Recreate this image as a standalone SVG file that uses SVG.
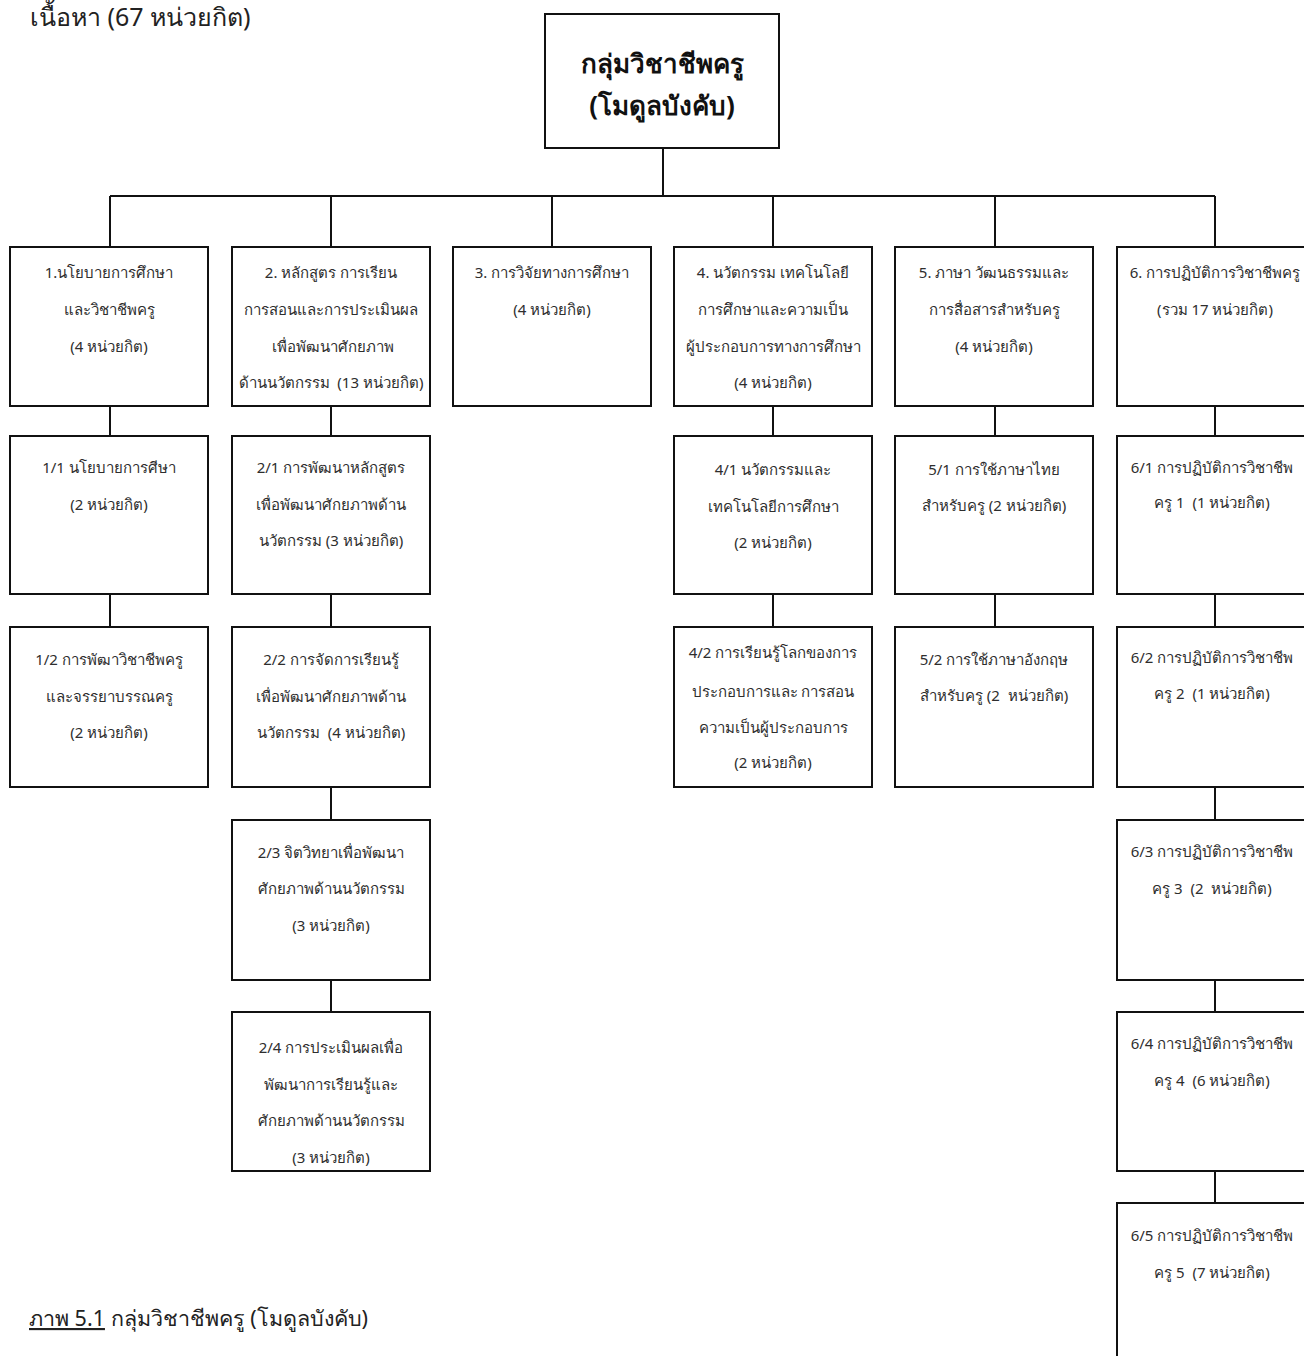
<svg xmlns="http://www.w3.org/2000/svg" width="1304" height="1356" viewBox="0 0 1304 1356">
<style>
.box{fill:#fff;stroke:#111;stroke-width:2}
.con{fill:none;stroke:#111;stroke-width:2}
.t{font-family:'Noto Sans','DejaVu Sans',sans-serif;font-size:15px;fill:#2e2e2e;text-anchor:middle;white-space:pre}
.root{font-family:'Noto Sans','DejaVu Sans',sans-serif;font-size:26px;font-weight:bold;fill:#111;text-anchor:middle}
.plain{font-family:'Noto Sans','DejaVu Sans',sans-serif;fill:#222}
</style>
<rect width="1304" height="1356" fill="#fff"/>
<text class="plain" x="30" y="26" font-size="25">เนื้อหา (67 หน่วยกิต)</text>
<g id="connectors">
<path class="con" d="M663 148V196M110 196H1215M110 196V247M331 196V247M552 196V247M773 196V247M995 196V247M1215 196V247"/>
<path class="con" d="M110 406V436M110 594V627"/>
<path class="con" d="M331 406V436M331 594V627M331 787V820M331 980V1012"/>
<path class="con" d="M773 406V436M773 594V627"/>
<path class="con" d="M995 406V436M995 594V627"/>
<path class="con" d="M1215 406V436M1215 594V627M1215 787V820M1215 980V1012M1215 1171V1203"/>
</g>
<g id="root"><rect class="box" x="545" y="14" width="234" height="134"/>
<text class="root" x="662" y="73">กลุ่มวิชาชีพครู</text><text class="root" x="662" y="115">(โมดูลบังคับ)</text></g>

<g id="n1"><rect class="box" x="10" y="247" width="198" height="159"/>
<text class="t" x="109" y="278">1.นโยบายการศึกษา</text><text class="t" x="109" y="315">และวิชาชีพครู</text><text class="t" x="109" y="352">(4 หน่วยกิต)</text></g>
<g id="n1_1"><rect class="box" x="10" y="436" width="198" height="158"/>
<text class="t" x="109" y="473">1/1 นโยบายการศีษา</text><text class="t" x="109" y="510">(2 หน่วยกิต)</text></g>
<g id="n1_2"><rect class="box" x="10" y="627" width="198" height="160"/>
<text class="t" x="109" y="665">1/2 การพัฒาวิชาชีพครู</text><text class="t" x="109" y="702">และจรรยาบรรณครู</text><text class="t" x="109" y="738">(2 หน่วยกิต)</text></g>

<g id="n2"><rect class="box" x="232" y="247" width="198" height="159"/>
<text class="t" x="331" y="278">2. หลักสูตร การเรียน</text><text class="t" x="331" y="315">การสอนและการประเมินผล</text><text class="t" x="333" y="352">เพื่อพัฒนาศักยภาพ</text><text class="t" x="331" y="388">ด้านนวัตกรรม  (13 หน่วยกิต)</text></g>
<g id="n2_1"><rect class="box" x="232" y="436" width="198" height="158"/>
<text class="t" x="331" y="473">2/1 การพัฒนาหลักสูตร</text><text class="t" x="331" y="510">เพื่อพัฒนาศักยภาพด้าน</text><text class="t" x="331" y="546">นวัตกรรม (3 หน่วยกิต)</text></g>
<g id="n2_2"><rect class="box" x="232" y="627" width="198" height="160"/>
<text class="t" x="331" y="665">2/2 การจัดการเรียนรู้</text><text class="t" x="331" y="702">เพื่อพัฒนาศักยภาพด้าน</text><text class="t" x="331" y="738">นวัตกรรม  (4 หน่วยกิต)</text></g>
<g id="n2_3"><rect class="box" x="232" y="820" width="198" height="160"/>
<text class="t" x="331" y="858">2/3 จิตวิทยาเพื่อพัฒนา</text><text class="t" x="331" y="894">ศักยภาพด้านนวัตกรรม</text><text class="t" x="331" y="931">(3 หน่วยกิต)</text></g>
<g id="n2_4"><rect class="box" x="232" y="1012" width="198" height="159"/>
<text class="t" x="331" y="1053">2/4 การประเมินผลเพื่อ</text><text class="t" x="331" y="1090">พัฒนาการเรียนรู้และ</text><text class="t" x="331" y="1126">ศักยภาพด้านนวัตกรรม</text><text class="t" x="331" y="1163">(3 หน่วยกิต)</text></g>

<g id="n3"><rect class="box" x="453" y="247" width="198" height="159"/>
<text class="t" x="552" y="278">3. การวิจัยทางการศึกษา</text><text class="t" x="552" y="315">(4 หน่วยกิต)</text></g>

<g id="n4"><rect class="box" x="674" y="247" width="198" height="159"/>
<text class="t" x="773" y="278">4. นวัตกรรม เทคโนโลยี</text><text class="t" x="773" y="315">การศึกษาและความเป็น</text><text class="t" x="773" y="352">ผู้ประกอบการทางการศึกษา</text><text class="t" x="773" y="388">(4 หน่วยกิต)</text></g>
<g id="n4_1"><rect class="box" x="674" y="436" width="198" height="158"/>
<text class="t" x="773" y="475">4/1 นวัตกรรมและ</text><text class="t" x="773" y="512">เทคโนโลยีการศึกษา</text><text class="t" x="773" y="548">(2 หน่วยกิต)</text></g>
<g id="n4_2"><rect class="box" x="674" y="627" width="198" height="160"/>
<text class="t" x="773" y="658">4/2 การเรียนรู้โลกของการ</text><text class="t" x="773" y="697">ประกอบการและ การสอน</text><text class="t" x="773" y="733">ความเป็นผู้ประกอบการ</text><text class="t" x="773" y="768">(2 หน่วยกิต)</text></g>

<g id="n5"><rect class="box" x="895" y="247" width="198" height="159"/>
<text class="t" x="994" y="278">5. ภาษา วัฒนธรรมและ</text><text class="t" x="994" y="315">การสื่อสารสำหรับครู</text><text class="t" x="994" y="352">(4 หน่วยกิต)</text></g>
<g id="n5_1"><rect class="box" x="895" y="436" width="198" height="158"/>
<text class="t" x="994" y="475">5/1 การใช้ภาษาไทย</text><text class="t" x="994" y="511">สำหรับครู (2 หน่วยกิต)</text></g>
<g id="n5_2"><rect class="box" x="895" y="627" width="198" height="160"/>
<text class="t" x="994" y="665">5/2 การใช้ภาษาอังกฤษ</text><text class="t" x="994" y="701">สำหรับครู (2  หน่วยกิต)</text></g>

<g id="n6"><rect class="box" x="1117" y="247" width="198" height="159"/>
<text class="t" x="1215" y="278">6. การปฏิบัติการวิชาชีพครู</text><text class="t" x="1215" y="315">(รวม 17 หน่วยกิต)</text></g>
<g id="n6_1"><rect class="box" x="1117" y="436" width="198" height="158"/>
<text class="t" x="1212" y="473">6/1 การปฏิบัติการวิชาชีพ</text><text class="t" x="1212" y="508">ครู 1  (1 หน่วยกิต)</text></g>
<g id="n6_2"><rect class="box" x="1117" y="627" width="198" height="160"/>
<text class="t" x="1212" y="663">6/2 การปฏิบัติการวิชาชีพ</text><text class="t" x="1212" y="699">ครู 2  (1 หน่วยกิต)</text></g>
<g id="n6_3"><rect class="box" x="1117" y="820" width="198" height="160"/>
<text class="t" x="1212" y="857">6/3 การปฏิบัติการวิชาชีพ</text><text class="t" x="1212" y="894">ครู 3  (2  หน่วยกิต)</text></g>
<g id="n6_4"><rect class="box" x="1117" y="1012" width="198" height="159"/>
<text class="t" x="1212" y="1049">6/4 การปฏิบัติการวิชาชีพ</text><text class="t" x="1212" y="1086">ครู 4  (6 หน่วยกิต)</text></g>
<g id="n6_5"><rect class="box" x="1117" y="1203" width="198" height="170"/>
<text class="t" x="1212" y="1241">6/5 การปฏิบัติการวิชาชีพ</text><text class="t" x="1212" y="1278">ครู 5  (7 หน่วยกิต)</text></g>

<text class="plain" x="29" y="1326" font-size="21.5"><tspan text-decoration="underline">ภาพ 5.1</tspan> กลุ่มวิชาชีพครู (โมดูลบังคับ)</text>
</svg>
